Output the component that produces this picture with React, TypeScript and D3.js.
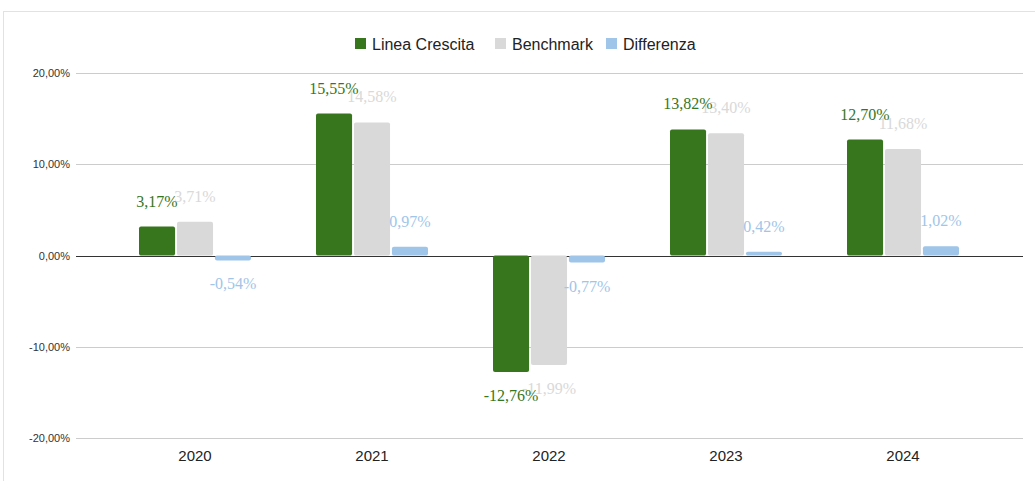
import React, { useEffect, useRef } from 'react'
import * as d3 from 'd3'

const years = ['2020', '2021', '2022', '2023', '2024']
const lineaCrescita = [3.17, 15.55, -12.76, 13.82, 12.70]
const benchmark = [3.71, 14.58, -11.99, 13.40, 11.68]
const differenza = [-0.54, 0.97, -0.77, 0.42, 1.02]
const yTicks = [-20, -10, 0, 10, 20]

const seriesNames = ['Linea Crescita', 'Benchmark', 'Differenza']
const seriesColors = ['#38761d', '#d9d9d9', '#9fc5e8']

const width = 1035
const height = 481

const fmt = (v: number) => `${v.toFixed(2).replace('.', ',')}%`

const App = () => {
  const d3Ref = useRef<SVGSVGElement>(null)

  useEffect(() => {
    const svg = d3.select(d3Ref.current)
    svg.selectAll('*').remove()

    const allSeries = [lineaCrescita, benchmark, differenza]

    // frame
    svg.append('rect')
      .attr('x', 3.5).attr('y', 11.5)
      .attr('width', width + 20).attr('height', height + 20)
      .attr('fill', '#fff')
      .attr('stroke', '#e2e2e2')

    const x0 = d3.scaleBand().domain(years).range([106.5, 991.5])
    const groupW = 112
    const x1 = d3.scaleBand().domain(seriesNames).range([0, groupW]).paddingInner(0.05)
    const y = d3.scaleLinear().domain([-20, 20]).range([438, 73])

    // grid
    const grid = svg.append('g')
    grid.selectAll('line')
      .data(yTicks)
      .join('line')
      .attr('x1', 76).attr('x2', 1023)
      .attr('y1', d => Math.round(y(d)) + 0.5)
      .attr('y2', d => Math.round(y(d)) + 0.5)
      .attr('stroke', d => d === 0 ? '#333' : '#ccc')
      .attr('stroke-width', 1)

    grid.selectAll('text')
      .data(yTicks)
      .join('text')
      .attr('x', 70)
      .attr('y', d => y(d) + 4)
      .attr('text-anchor', 'end')
      .attr('font-family', 'Liberation Sans, Arial, sans-serif')
      .attr('font-size', 11)
      .attr('fill', '#333')
      .text(d => fmt(d))

    // x labels
    svg.append('g').selectAll('text')
      .data(years)
      .join('text')
      .attr('x', d => (x0(d) as number) + x0.bandwidth() / 2)
      .attr('y', 461)
      .attr('text-anchor', 'middle')
      .attr('font-family', 'Liberation Sans, Arial, sans-serif')
      .attr('font-size', 15)
      .attr('fill', '#222')
      .text(d => d)

    const groupOffset = (x0.bandwidth() - groupW) / 2
    const bx = (yi: number, si: number) =>
      (x0(years[yi]) as number) + groupOffset + (x1(seriesNames[si]) as number)

    // bars
    seriesNames.forEach((name, si) => {
      svg.append('g').selectAll('rect')
        .data(allSeries[si])
        .join('rect')
        .attr('x', (d, i) => bx(i, si))
        .attr('width', x1.bandwidth())
        .attr('y', d => Math.min(y(d), y(0)))
        .attr('height', d => Math.abs(y(d) - y(0)))
        .attr('rx', 2)
        .attr('fill', seriesColors[si])
    })

    // value labels, drawn last series first so green sits on top
    for (let si = seriesNames.length - 1; si >= 0; si--) {
      svg.append('g').selectAll('text')
        .data(allSeries[si])
        .join('text')
        .attr('x', (d, i) => bx(i, si) + x1.bandwidth() / 2)
        .attr('y', d => d >= 0 ? y(d) - 20 : y(d) + 29)
        .attr('text-anchor', 'middle')
        .attr('font-family', 'Liberation Serif, Times New Roman, serif')
        .attr('font-size', 16)
        .attr('fill', seriesColors[si])
        .text(d => fmt(d))
    }

    // legend
    const legendX = [355, 495, 606]
    const legend = svg.append('g')
    seriesNames.forEach((name, si) => {
      legend.append('rect')
        .attr('x', legendX[si]).attr('y', 38)
        .attr('width', 11).attr('height', 11)
        .attr('fill', seriesColors[si])
      legend.append('text')
        .attr('x', legendX[si] + 17)
        .attr('y', 49.5)
        .attr('font-family', 'Liberation Sans, Arial, sans-serif')
        .attr('font-size', 16)
        .attr('fill', '#222')
        .text(name)
    })
  }, [])

  return (
    <div style={{ position: 'absolute', left: 0, top: 0 }}>
      <svg width={width} height={height} ref={d3Ref} style={{ display: 'block' }} />
    </div>
  )
}

export default App
